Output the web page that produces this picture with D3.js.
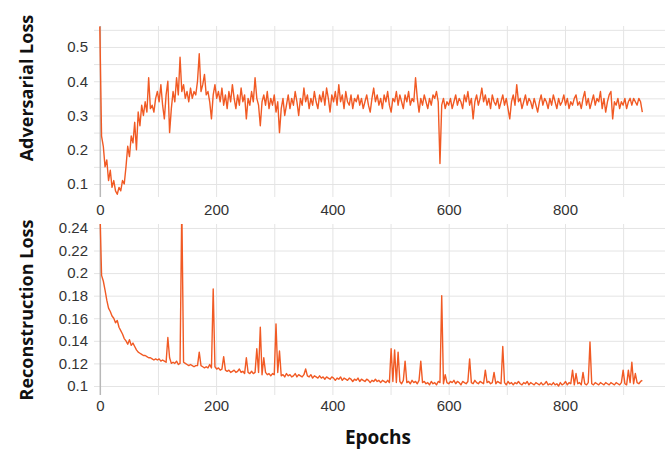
<!DOCTYPE html>
<html lang="en">
<head>
<meta charset="UTF-8">
<title>Adversarial and reconstruction loss</title>
<script src="https://d3js.org/d3.v7.min.js"></script>
<style>
  body { margin: 0; background: #fff; }
  .labels text { font-family: "Liberation Sans", Arial, sans-serif; font-size: 15px; fill: #333; }
  .grid line { stroke: #e4e4e4; stroke-width: 1; }
  .grid .zero line { stroke: #b8b8b8; stroke-width: 1.5; }
  .title { font-family: "Open Sans", sans-serif; font-weight: bold; fill: #111; }
</style>
</head>
<body>
<svg width="668" height="450"></svg>
<script>
// values, one every 3 epochs (0, 3, ... 933)
let adversarial = [
  0.56,0.24,0.21,0.15,0.17,0.11,0.14,0.09,0.11,0.08,
  0.07,0.09,0.08,0.11,0.10,0.15,0.21,0.18,0.24,0.22,
  0.28,0.20,0.31,0.27,0.33,0.30,0.34,0.31,0.41,0.32,
  0.33,0.31,0.35,0.37,0.34,0.39,0.33,0.29,0.36,0.40,
  0.25,0.32,0.37,0.34,0.41,0.36,0.47,0.37,0.39,0.35,
  0.37,0.34,0.38,0.35,0.37,0.36,0.40,0.48,0.37,0.39,
  0.42,0.36,0.37,0.34,0.29,0.36,0.39,0.35,0.37,0.34,
  0.38,0.33,0.36,0.32,0.37,0.34,0.39,0.35,0.32,0.36,
  0.33,0.38,0.34,0.36,0.29,0.35,0.33,0.37,0.34,0.41,
  0.35,0.33,0.27,0.34,0.36,0.33,0.37,0.32,0.35,0.33,
  0.36,0.31,0.34,0.25,0.32,0.35,0.30,0.33,0.36,0.32,
  0.35,0.33,0.37,0.34,0.30,0.35,0.33,0.38,0.34,0.36,
  0.32,0.35,0.33,0.37,0.34,0.32,0.36,0.34,0.37,0.33,
  0.38,0.35,0.31,0.36,0.34,0.37,0.33,0.39,0.34,0.36,
  0.32,0.37,0.34,0.33,0.36,0.32,0.35,0.34,0.36,0.33,
  0.35,0.32,0.34,0.36,0.33,0.31,0.35,0.38,0.34,0.36,
  0.33,0.35,0.32,0.36,0.34,0.37,0.33,0.31,0.35,0.34,
  0.37,0.33,0.36,0.34,0.32,0.36,0.34,0.37,0.33,0.35,
  0.34,0.41,0.35,0.31,0.35,0.33,0.36,0.34,0.32,0.35,
  0.33,0.36,0.35,0.37,0.34,0.16,0.33,0.35,0.32,0.34,
  0.33,0.35,0.32,0.34,0.36,0.33,0.35,0.34,0.32,0.36,
  0.34,0.37,0.33,0.35,0.29,0.34,0.36,0.33,0.35,0.38,
  0.34,0.36,0.33,0.35,0.32,0.36,0.34,0.33,0.35,0.32,
  0.34,0.36,0.33,0.35,0.32,0.29,0.34,0.36,0.33,0.39,
  0.34,0.35,0.32,0.34,0.36,0.33,0.35,0.34,0.32,0.35,
  0.33,0.31,0.34,0.36,0.33,0.35,0.34,0.32,0.35,0.33,
  0.36,0.34,0.32,0.35,0.33,0.34,0.36,0.33,0.35,0.32,
  0.34,0.33,0.35,0.36,0.33,0.34,0.32,0.35,0.37,0.33,
  0.35,0.32,0.34,0.36,0.33,0.35,0.34,0.37,0.32,0.35,
  0.31,0.34,0.36,0.37,0.29,0.34,0.33,0.35,0.32,0.34,
  0.33,0.35,0.32,0.34,0.35,0.33,0.35,0.34,0.33,0.35,
  0.34,0.31
];

let reconstruction = [
  0.26,0.198,0.193,0.185,0.176,0.169,0.166,0.162,0.160,0.156,
  0.158,0.152,0.149,0.146,0.142,0.140,0.137,0.141,0.136,0.138,
  0.135,0.132,0.130,0.129,0.128,0.127,0.127,0.126,0.125,0.125,
  0.124,0.123,0.124,0.123,0.124,0.122,0.123,0.122,0.121,0.143,
  0.125,0.120,0.121,0.120,0.122,0.119,0.120,0.260,0.121,0.120,
  0.119,0.118,0.119,0.118,0.117,0.118,0.118,0.130,0.118,0.117,
  0.116,0.117,0.116,0.119,0.116,0.186,0.117,0.115,0.116,0.114,
  0.115,0.126,0.114,0.113,0.114,0.112,0.113,0.114,0.112,0.113,
  0.115,0.112,0.113,0.111,0.125,0.112,0.111,0.113,0.111,0.112,
  0.133,0.112,0.152,0.110,0.125,0.112,0.110,0.111,0.109,0.111,
  0.110,0.155,0.112,0.131,0.109,0.110,0.108,0.111,0.109,0.110,
  0.108,0.109,0.111,0.108,0.110,0.109,0.108,0.110,0.115,0.109,
  0.108,0.110,0.107,0.109,0.108,0.107,0.109,0.107,0.108,0.106,
  0.108,0.107,0.106,0.108,0.107,0.105,0.107,0.106,0.108,0.105,
  0.107,0.106,0.105,0.107,0.106,0.104,0.106,0.105,0.107,0.104,
  0.106,0.105,0.104,0.106,0.105,0.103,0.105,0.104,0.106,0.104,
  0.105,0.103,0.105,0.104,0.103,0.105,0.103,0.133,0.104,0.132,
  0.103,0.130,0.104,0.102,0.105,0.122,0.103,0.104,0.102,0.105,
  0.103,0.104,0.102,0.105,0.122,0.103,0.104,0.102,0.103,0.101,
  0.104,0.102,0.103,0.101,0.104,0.103,0.180,0.102,0.110,0.103,
  0.102,0.104,0.103,0.105,0.102,0.104,0.103,0.101,0.104,0.103,
  0.102,0.104,0.124,0.103,0.102,0.105,0.103,0.102,0.104,0.103,
  0.102,0.114,0.103,0.104,0.102,0.103,0.112,0.102,0.104,0.103,
  0.102,0.135,0.103,0.101,0.104,0.102,0.103,0.101,0.103,0.102,
  0.104,0.102,0.101,0.103,0.102,0.104,0.101,0.103,0.102,0.101,
  0.103,0.102,0.101,0.103,0.101,0.102,0.104,0.101,0.102,0.101,
  0.103,0.101,0.102,0.100,0.103,0.101,0.102,0.104,0.101,0.103,
  0.102,0.114,0.101,0.111,0.102,0.103,0.101,0.112,0.102,0.101,
  0.103,0.139,0.102,0.101,0.103,0.102,0.101,0.103,0.102,0.101,
  0.103,0.102,0.101,0.103,0.102,0.101,0.103,0.102,0.101,0.103,
  0.114,0.102,0.101,0.114,0.103,0.121,0.102,0.111,0.103,0.102,
  0.104,0.105
];

let epochs = d3.range(0, 934, 3);

let epochLabels = [0, 200, 400, 600, 800];
let epochGrid = [0, 100, 200, 300, 400, 500, 600, 700, 800, 900];
let adversarialLabels = [0.1, 0.2, 0.3, 0.4, 0.5];
let adversarialGrid = [0.1, 0.15, 0.2, 0.25, 0.3, 0.35, 0.4, 0.45, 0.5, 0.55];
let reconstructionLabels = [0.1, 0.12, 0.14, 0.16, 0.18, 0.2, 0.22, 0.24];

let svg = d3.select("svg");
let left = 94, right = 665;
let lineColor = "#f15a24";

let x = d3.scaleLinear().domain([-10, 972]).range([left, right]);

let panels = [
  { id: "adv", values: adversarial, top: 26, bottom: 197, domain: [0.062, 0.5612],
    labels: adversarialLabels, grid: adversarialGrid, pad: 7,
    title: "Adversarial Loss", titleY: 88 },
  { id: "rec", values: reconstruction, top: 224, bottom: 395, domain: [0.092, 0.2435],
    labels: reconstructionLabels, grid: reconstructionLabels, pad: 5,
    title: "Reconstruction Loss", titleY: 310 }
];

panels.forEach(p => {
  let y = d3.scaleLinear().domain(p.domain).range([p.bottom, p.top]);
  let g = svg.append("g");

  // horizontal grid
  g.append("g")
    .attr("class", "grid")
    .attr("transform", `translate(${left},0)`)
    .call(d3.axisLeft(y).tickValues(p.grid).tickSize(-(right - left)).tickFormat(""))
    .call(s => s.select(".domain").remove());

  // vertical grid, the zero line a bit darker
  g.append("g")
    .attr("class", "grid")
    .attr("transform", `translate(0,${p.bottom})`)
    .call(d3.axisBottom(x).tickValues(epochGrid).tickSize(-(p.bottom - p.top)).tickFormat(""))
    .call(s => s.select(".domain").remove())
    .call(s => s.selectAll(".tick").filter(d => d === 0).classed("zero", true).raise());

  g.append("g")
    .attr("class", "labels")
    .attr("transform", "translate(88,0)")
    .call(d3.axisLeft(y).tickValues(p.labels).tickSize(0).tickPadding(0).tickFormat(d3.format("")))
    .call(s => s.select(".domain").remove());

  g.append("g")
    .attr("class", "labels")
    .attr("transform", `translate(0,${p.bottom})`)
    .call(d3.axisBottom(x).tickValues(epochLabels).tickSize(0).tickPadding(p.pad))
    .call(s => s.select(".domain").remove());

  svg.append("clipPath").attr("id", "clip-" + p.id)
    .append("rect")
    .attr("x", left).attr("y", p.top)
    .attr("width", right - left).attr("height", p.bottom - p.top);

  let line = d3.line()
    .x((d, i) => x(epochs[i]))
    .y(d => y(d));

  g.append("path")
    .datum(p.values.slice(0, epochs.length))
    .attr("clip-path", `url(#clip-${p.id})`)
    .attr("fill", "none")
    .attr("stroke", lineColor)
    .attr("stroke-width", 1.4)
    .attr("stroke-linejoin", "round")
    .attr("d", line);

  svg.append("text")
    .attr("class", "title")
    .attr("transform", `translate(26,${p.titleY}) rotate(-90)`)
    .attr("text-anchor", "middle")
    .attr("dominant-baseline", "central")
    .attr("font-size", "18px")
    .text(p.title);
});

svg.append("text")
  .attr("class", "title")
  .attr("x", 378)
  .attr("y", 444)
  .attr("text-anchor", "middle")
  .attr("font-size", "19px")
  .text("Epochs");
</script>
</body>
</html>
